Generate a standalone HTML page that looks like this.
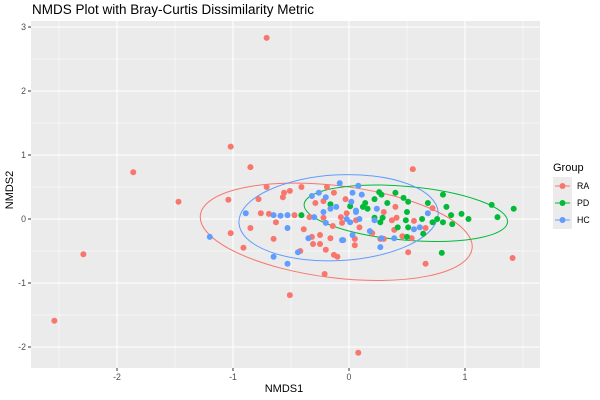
<!DOCTYPE html>
<html><head><meta charset="utf-8">
<style>
body{margin:0;background:#fff;}
svg{display:block;font-family:"Liberation Sans",sans-serif;}
</style></head>
<body>
<svg id="chart" width="600" height="400">
<text x="32" y="14" font-size="13.5" fill="#000">NMDS Plot with Bray-Curtis Dissimilarity Metric</text>
<rect x="31" y="21" width="509" height="347" fill="#ebebeb"/>
<g id="grid"></g>
<g id="axes"></g>
<g id="ellipses"></g>
<g id="points"></g>
<text x="284" y="392" font-size="11" text-anchor="middle">NMDS1</text>
<text x="13" y="190" font-size="11" text-anchor="middle" transform="rotate(-90 13 190)">NMDS2</text>
<g>
<text x="553" y="171" font-size="11">Group</text>
<rect x="553" y="177" width="19" height="52" fill="#ebebeb"/>
<g id="legend-entries"></g>
</g>
</svg>
<script>
const xTicks=[-2,-1,0,1];
const yTicks=[-2,-1,0,1,2,3];
const groups=["RA","PD","HC"];
const colors=["#F8766D","#00BA38","#619CFF"];
const raX=[-0.71,-1.02,-0.85,-1.86,-1.47,-1.04,-1.02,-2.29,-2.54,-0.51,0.08,-0.21,0.55,1.41,0.66,-0.71,-0.78,-0.56,-0.51,-0.57,-0.41,-0.76,-0.69,-0.63,-0.85,-0.91,-0.65,-0.47,-0.39,-0.32,-0.31,-0.25,-0.25,-0.16,-0.20,-0.13,-0.10,-0.42,-0.19,-0.13,-0.29,-0.22,-0.03,-0.34,-0.22,-0.02,-0.07,-0.14,-0.06,0.06,0.09,0.05,0.05,0.20,0.27,0.30,0.40,0.37,0.41,0.39,0.46,0.54,0.56,0.66,0.72,0.51,0.30];
const raY=[2.83,1.13,0.81,0.73,0.27,0.30,-0.22,-0.55,-1.59,-1.19,-2.09,-0.86,0.78,-0.61,-0.70,0.50,0.31,0.41,0.44,0.34,0.50,0.09,0.08,-0.05,-0.14,-0.45,-0.31,0.06,-0.16,-0.28,-0.39,-0.25,-0.39,-0.30,-0.48,-0.56,-0.59,-0.50,0.50,0.41,0.25,0.28,0.31,0.03,0.02,0.09,0.03,-0.11,-0.06,-0.02,-0.13,-0.41,-0.31,-0.22,-0.31,0.11,0.19,-0.02,0.02,-0.17,-0.27,-0.30,-0.03,-0.14,0.17,-0.52,-0.31];
const pdX=[-0.41,-0.16,0.01,0.26,0.28,0.40,0.22,0.14,0.12,0.16,0.33,0.47,0.51,0.50,0.49,0.29,0.27,0.22,0.42,0.51,0.50,0.63,0.68,0.64,0.72,0.76,0.81,0.84,0.81,0.88,0.89,0.97,1.03,1.23,1.28,1.42,0.80];
const pdY=[0.06,0.23,0.20,0.42,0.38,0.41,0.31,0.25,0.19,0.16,0.25,0.33,0.27,0.11,-0.02,0.02,-0.05,0.02,-0.13,-0.13,-0.28,0.00,0.25,-0.23,-0.05,0.00,-0.05,0.19,0.38,0.06,-0.08,0.08,0.00,0.22,0.03,0.16,-0.53];
const hcX=[-1.20,-0.89,-0.65,-0.59,-0.53,-0.53,-0.35,-0.44,-0.65,-0.53,-0.32,-0.26,-0.20,-0.08,0.03,0.02,-0.11,-0.16,-0.22,-0.30,-0.20,-0.06,0.06,0.01,0.03,0.08,0.11,0.06,0.09,0.22,0.24,-0.02,0.18,-0.05,0.28,0.39,0.27,0.56,0.61,0.68];
const hcY=[-0.28,0.09,0.06,0.05,0.06,-0.14,-0.30,-0.52,-0.59,-0.70,0.36,0.41,0.34,0.56,0.41,0.27,0.19,0.16,0.11,0.03,-0.06,-0.33,0.11,-0.05,-0.25,0.52,0.38,0.13,0.00,-0.02,0.16,0.00,-0.19,-0.33,-0.30,-0.30,-0.44,-0.16,-0.13,0.09];
// ellipse centers (data units), semi-axes (data units), rotation deg
const ellCx=[-0.11,0.49,-0.09];
const ellCy=[-0.20,0.09,0.02];
const ellRx=[1.18,0.88,0.86];
const ellRy=[0.72,0.42,0.67];
const ellRot=[7,5,-3];

const xs=v=>349+v*116;
const ys=v=>219-v*64;
const NS="http://www.w3.org/2000/svg";
function mk(tag,attrs,parent){const e=document.createElementNS(NS,tag);for(const k in attrs)e.setAttribute(k,attrs[k]);parent.appendChild(e);return e;}
const grid=document.getElementById('grid'),axes=document.getElementById('axes');
for(let i=0;i<xTicks.length;i++){const t=xTicks[i];
 if(i<xTicks.length){const m=xs(t-0.5);if(m>31){const g=mk('line',{x1:m,x2:m,y1:21,y2:368,stroke:'#fff','stroke-width':0.5},grid);}}
 const g=mk('line',{x1:xs(t),x2:xs(t),y1:21,y2:368,stroke:'#fff','stroke-width':1.1},grid);
 
 
 const tk=mk('line',{x1:xs(t),x2:xs(t),y1:368,y2:371,stroke:'#333'},axes);
 
 
 const l=mk('text',{x:xs(t),y:380,'font-size':8.8,'text-anchor':'middle',fill:'#4d4d4d'},axes);l.textContent=t;
 
 
}
{const m=xs(1.5);const g=mk('line',{x1:m,x2:m,y1:21,y2:368,stroke:'#fff','stroke-width':0.5},grid);}
for(const t of yTicks){
 const m=ys(t-0.5);if(m<368){const g2=mk('line',{x1:31,x2:540,y1:m,y2:m,stroke:'#fff','stroke-width':0.5},grid);}
 const g=mk('line',{x1:31,x2:540,y1:ys(t),y2:ys(t),stroke:'#fff','stroke-width':1.1},grid);
 
 
 const tk=mk('line',{x1:28,x2:31,y1:ys(t),y2:ys(t),stroke:'#333'},axes);
 
 
 const l=mk('text',{x:26,y:ys(t)+3,'font-size':8.8,'text-anchor':'end',fill:'#4d4d4d'},axes);l.textContent=t;
 
 
}
const ell=document.getElementById('ellipses');
for(let i=0;i<3;i++){
 const e=mk('ellipse',{cx:xs(ellCx[i]),cy:ys(ellCy[i]),rx:ellRx[i]*116,ry:ellRy[i]*64,fill:'none',stroke:colors[i],'stroke-width':1,transform:`rotate(${ellRot[i]} ${xs(ellCx[i])} ${ys(ellCy[i])})`},ell);
 
 
}
const pts=document.getElementById('points');
const sets=[[raX,raY],[pdX,pdY],[hcX,hcY]];
for(let g=0;g<3;g++){const [X,Y]=sets[g];
 for(let i=0;i<X.length;i++){
  const c=mk('circle',{cx:xs(X[i]),cy:ys(Y[i]),r:3,fill:colors[g]},pts);
  
  
 }}
const le=document.getElementById('legend-entries');
for(let i=0;i<3;i++){const y=186+i*17;
 const ln=mk('line',{x1:555,x2:570,y1:y,y2:y,stroke:colors[i]},le);
 
 
 const c=mk('circle',{cx:562.5,cy:y,r:3,fill:colors[i]},le);
 
 
 const t=mk('text',{x:577,y:y+3,'font-size':8.8},le);t.textContent=groups[i];
 
 
}
</script>
</body></html>
